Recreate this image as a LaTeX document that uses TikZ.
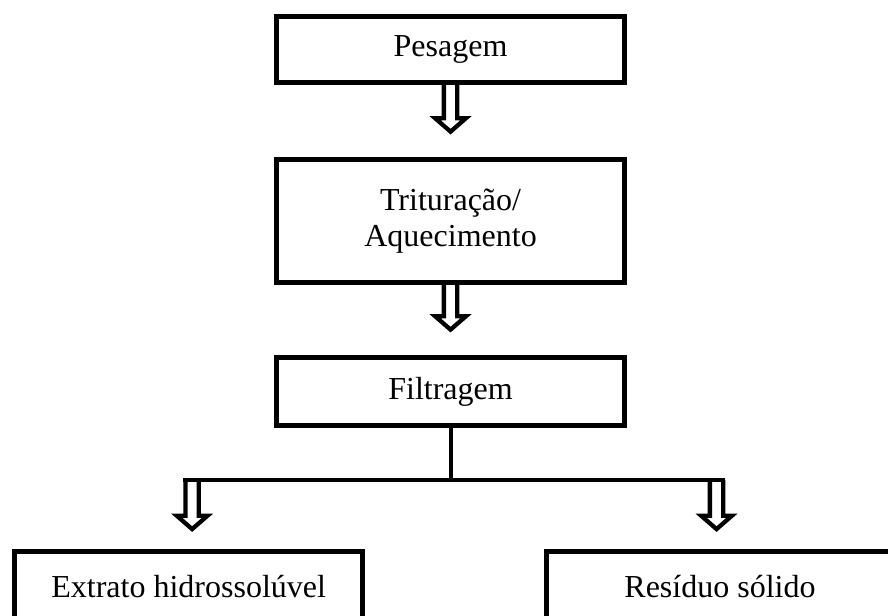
\documentclass[tikz,border=0pt]{standalone}
\usepackage{fontspec}
\setmainfont{Liberation Serif}
\usetikzlibrary{positioning,calc}

\begin{document}
\begin{tikzpicture}[
  node distance=54pt,
  every node/.style={font=\fontsize{24pt}{26.5pt}\selectfont,align=center},
  box/.style={draw=black,line width=3.75pt,minimum width=261pt,
    minimum height=49.5pt,inner sep=0pt},
  link/.style={line width=3pt},
  hollow/.style={line width=3.2pt,
    to path={let \p1=(\tikztostart),\p2=(\tikztotarget) in
      ({\x1-5pt},\y1) -- ({\x1-5pt},{\y2+#1+10pt}) -- ({\x1-11.5pt},{\y2+#1+10pt})
      -- (\x1,{\y2+#1}) -- ({\x1+11.5pt},{\y2+#1+10pt})
      -- ({\x1+5pt},{\y2+#1+10pt}) -- ({\x1+5pt},\y1)}},
  hollow/.default=19pt
]
\clip (0,0) rectangle (666pt,-462pt);
\node[box] (pes) at (337.9pt,-37.1pt) {Pesagem};
\node[box,minimum height=92.25pt,below=of pes] (tri) {Trituração/\\Aquecimento};
\node[box,minimum height=51pt,below=52.5pt of tri] (fil) {Filtragem};
\coordinate[below=39pt of fil] (split);
\node[box,minimum height=52pt] (ext) at (141.5pt,-439.7pt) {Extrato hidrossolúvel};
\node[box,minimum height=52pt] (res) at (540pt,-439.7pt) {Resíduo sólido};
\draw[hollow] (pes.south) to (tri.north);
\draw[hollow] (tri.south) to (fil.north);
\draw[link] (fil) -- (split);
\draw[link] ($(split -| ext)+(-4pt,0)$) -- ($(split -| res)+(4pt,0)$);
\draw[hollow=15pt] ($(split -| ext)+(2.6pt,0)$) to (ext.north);
\draw[hollow=15pt] ($(split -| res)+(-2.6pt,0)$) to (res.north);
\end{tikzpicture}
\end{document}
